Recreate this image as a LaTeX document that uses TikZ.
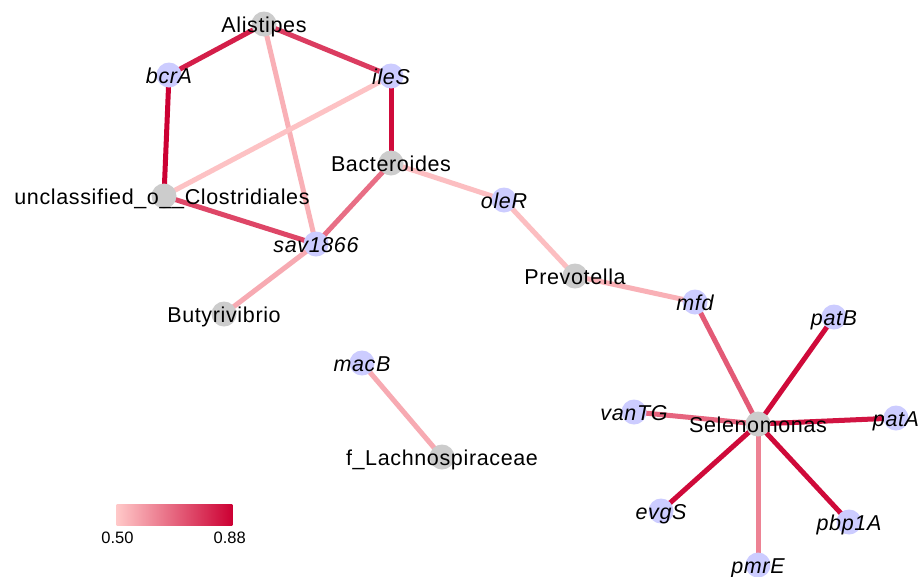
\documentclass[tikz,border=0pt]{standalone}
\usepackage{fontspec}
\setmainfont{Liberation Sans}[LetterSpace=3.0]
\newfontfamily\cbfont{Liberation Sans}
\usetikzlibrary{backgrounds}
\definecolor{lo}{RGB}{255,200,200}
\definecolor{hi}{RGB}{204,0,51}
\definecolor{taxon}{RGB}{204,204,204}
\definecolor{gene}{RGB}{204,204,255}
\tikzset{
  vtx/.style={circle, inner sep=0pt, minimum size=25pt},
  tx/.style={vtx, fill=taxon},
  gn/.style={vtx, fill=gene},
  ed/.style={line width=5pt, draw=hi!#1!lo},
  lbl/.style={anchor=base, inner sep=0pt, font=\fontsize{21.5}{24}\selectfont, text=black},
  glbl/.style={lbl, font=\fontsize{21.5}{24}\selectfont\itshape},
}
\begin{document}
\begin{tikzpicture}[x=1pt,y=-1pt]
\useasboundingbox (0,0) rectangle (920,576);
% vertices
\node[tx] (Ali) at (264,24) {};
\node[gn] (bcr) at (169,75) {};
\node[gn] (ile) at (391,76) {};
\node[tx] (Bac) at (391,163) {};
\node[tx] (unc) at (164,196) {};
\node[gn] (sav) at (316,244) {};
\node[tx] (But) at (224,314) {};
\node[gn] (ole) at (504,200) {};
\node[tx] (Pre) at (575,276) {};
\node[gn] (mfd) at (695,302) {};
\node[gn] (patB) at (834,317) {};
\node[gn] (patA) at (896,418) {};
\node[tx] (Sel) at (758,424) {};
\node[gn] (van) at (634,412) {};
\node[gn] (evg) at (661,511) {};
\node[gn] (pbp) at (849,522) {};
\node[gn] (pmr) at (758,565) {};
\node[gn] (mac) at (362,363) {};
\node[tx] (fla) at (442,457) {};
% edges
\begin{scope}[on background layer]
\fill[white] (0,0) rectangle (920,576);
\draw[ed=85] (Ali.center) -- (bcr.center);
\draw[ed=70] (Ali.center) -- (ile.center);
\draw[ed=12] (Ali.center) -- (sav.center);
\draw[ed=100] (bcr.center) -- (unc.center);
\draw[ed=3] (ile.center) -- (unc.center);
\draw[ed=95] (ile.center) -- (Bac.center);
\draw[ed=65] (unc.center) -- (sav.center);
\draw[ed=45] (Bac.center) -- (sav.center);
\draw[ed=15] (sav.center) -- (But.center);
\draw[ed=5] (Bac.center) -- (ole.center);
\draw[ed=5] (ole.center) -- (Pre.center);
\draw[ed=12] (Pre.center) -- (mfd.center);
\draw[ed=55] (mfd.center) -- (Sel.center);
\draw[ed=95] (Sel.center) -- (patB.center);
\draw[ed=90] (Sel.center) -- (patA.center);
\draw[ed=50] (Sel.center) -- (van.center);
\draw[ed=95] (Sel.center) -- (evg.center);
\draw[ed=95] (Sel.center) -- (pbp.center);
\draw[ed=35] (Sel.center) -- (pmr.center);
\draw[ed=15] (mac.center) -- (fla.center);
\end{scope}
% labels
\node[lbl] (lAli) at ([yshift=-8.7pt]Ali.center) {Alistipes};
\node[glbl] (lbcr) at ([yshift=-8.7pt]bcr.center) {bcrA};
\node[glbl] (lile) at ([yshift=-8.7pt]ile.center) {ileS};
\node[lbl] (lBac) at ([yshift=-8.7pt]Bac.center) {Bacteroides};
\node[lbl] (lunc) at ([xshift=-2pt,yshift=-8.7pt]unc.center) {unclassified\_o\_\_Clostridiales};
\node[glbl] (lsav) at ([yshift=-8.7pt]sav.center) {sav1866};
\node[lbl] (lBut) at ([yshift=-8.7pt]But.center) {Butyrivibrio};
\node[glbl] (lole) at ([yshift=-8.7pt]ole.center) {oleR};
\node[lbl] (lPre) at ([yshift=-8.7pt]Pre.center) {Prevotella};
\node[glbl] (lmfd) at ([yshift=-8.7pt]mfd.center) {mfd};
\node[glbl] (lpatB) at ([yshift=-8.7pt]patB.center) {patB};
\node[glbl] (lpatA) at ([yshift=-8.7pt]patA.center) {patA};
\node[lbl] (lSel) at ([yshift=-8.7pt]Sel.center) {Selenomonas};
\node[glbl] (lvan) at ([yshift=-8.7pt]van.center) {vanTG};
\node[glbl] (levg) at ([yshift=-8.7pt]evg.center) {evgS};
\node[glbl] (lpbp) at ([yshift=-8.7pt]pbp.center) {pbp1A};
\node[glbl] (lpmr) at ([yshift=-8.7pt]pmr.center) {pmrE};
\node[glbl] (lmac) at ([yshift=-8.7pt]mac.center) {macB};
\node[lbl] (lfla) at ([yshift=-8.7pt]fla.center) {f\_Lachnospiraceae};
% colour bar
\shade[left color=lo, right color=hi] (116.7,504) rectangle (232.3,525.7);
\node[anchor=base, inner sep=0pt, font=\cbfont\fontsize{16.5}{18}\selectfont] (cblo) at (117.5,543.5) {0.50};
\node[anchor=base, inner sep=0pt, font=\cbfont\fontsize{16.5}{18}\selectfont] (cbhi) at (229.7,543.5) {0.88};
\end{tikzpicture}
\end{document}
